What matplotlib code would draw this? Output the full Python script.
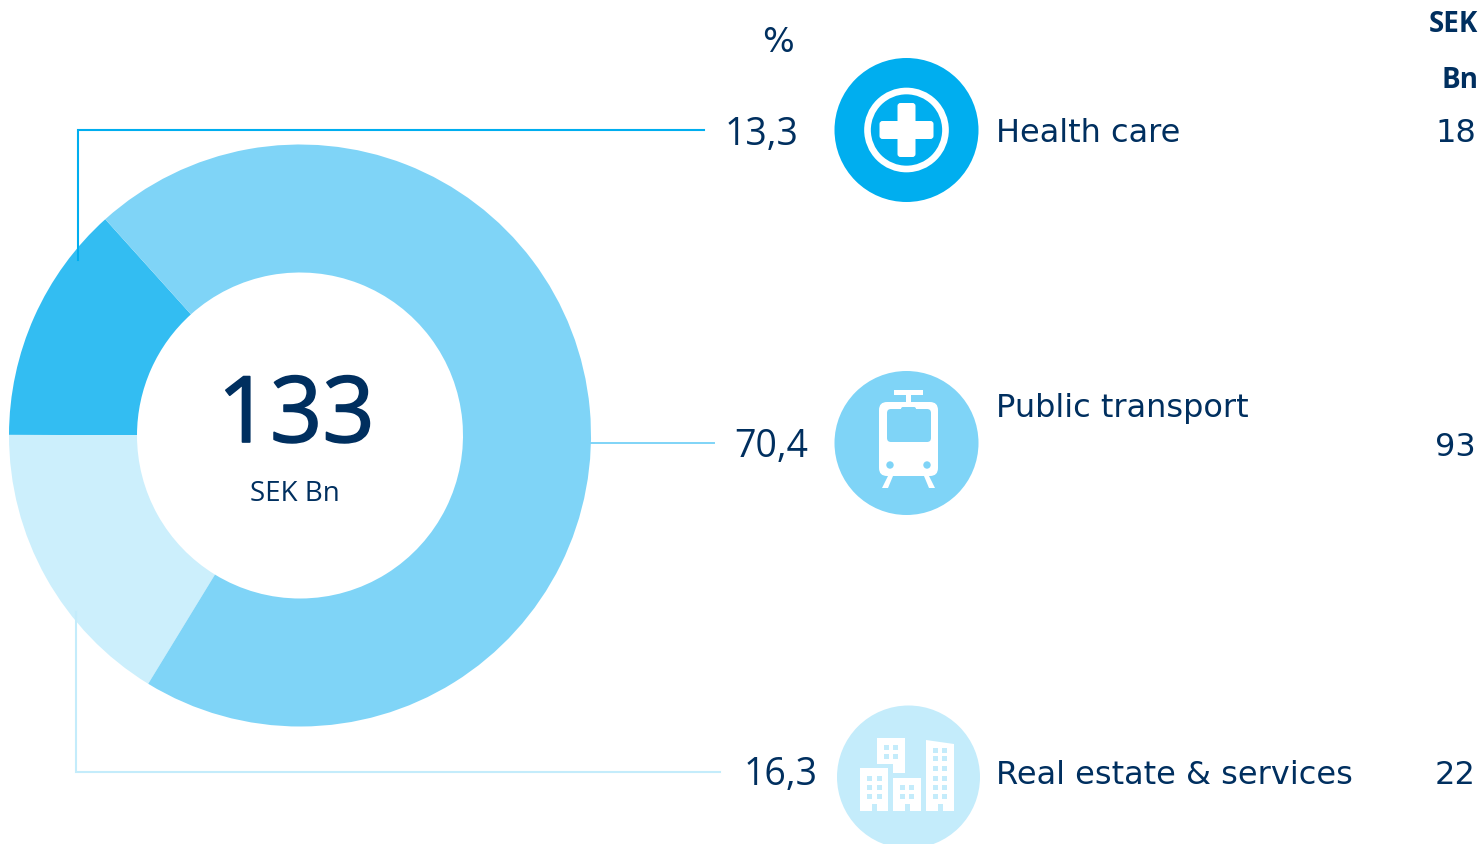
import matplotlib
matplotlib.use('Agg')
import matplotlib.pyplot as plt
import matplotlib.patheffects as pe
from matplotlib.patches import Circle, Rectangle, FancyBboxPatch, Polygon

W = 1483
H = 845

# datos del grafico
categorias = ['Health care', 'Public transport', 'Real estate & services']
porcentajes = [13.3, 70.4, 16.3]
porcentajes_txt = ['13,3', '70,4', '16,3']
sek_bn = ['18', '93', '22']
total = '133'

AZUL_TEXTO = '#002F5F'
C_HEALTH = '#00AEEF'
C_HEALTH_DONUT = '#33BDF2'
C_TRANSPORT = '#7FD4F7'
C_REAL = '#C4ECFB'
C_REAL_DONUT = '#CCEFFC'
FUENTE = 'DejaVu Sans'
FUENTE2 = 'Open Sans'


# el eje va en pixeles con y hacia arriba, esto pasa de y de la imagen a y del eje
def Y(py):
    return H - py


def caja(ax, x0, y0, x1, y1, color, z=5):
    ax.add_patch(Rectangle((x0, Y(y1)), x1 - x0, y1 - y0, fc=color, ec='none', zorder=z))


def caja_redonda(ax, x0, y0, x1, y1, r, color, z=5):
    ax.add_patch(FancyBboxPatch((x0 + r, Y(y1) + r), x1 - x0 - 2 * r, y1 - y0 - 2 * r,
                                boxstyle='round,pad=%f,rounding_size=%f' % (r, r),
                                fc=color, ec='none', zorder=z))


def icono_health(ax, cx, cy):
    ax.add_patch(Circle((cx, Y(cy)), 72, fc=C_HEALTH, ec='none', zorder=4))
    ax.add_patch(Circle((cx, Y(cy)), 39, fc='none', ec='white', lw=4.8, zorder=5))
    caja_redonda(ax, cx - 27, cy - 9, cx + 27, cy + 9, 3, 'white')
    caja_redonda(ax, cx - 9, cy - 27, cx + 9, cy + 27, 3, 'white')


def icono_tren(ax, cx, cy):
    ax.add_patch(Circle((cx, Y(cy)), 72, fc=C_TRANSPORT, ec='none', zorder=4))
    caja(ax, 894, 390, 923, 395, 'white')
    caja(ax, 906, 395, 911, 403, 'white')
    caja_redonda(ax, 879, 402, 938, 476, 8, 'white')
    caja_redonda(ax, 887, 409, 931, 442, 4, C_TRANSPORT, z=6)
    caja_redonda(ax, 901, 407, 916, 412, 2, C_TRANSPORT, z=6)
    for x in (890, 927):
        ax.add_patch(Circle((x, Y(465)), 3.7, fc=C_TRANSPORT, ec='none', zorder=6))
    ax.add_patch(Polygon([(888, Y(476)), (893, Y(476)), (888, Y(488)), (882, Y(488))], fc='white', ec='none', zorder=5))
    ax.add_patch(Polygon([(924, Y(476)), (929, Y(476)), (935, Y(488)), (929, Y(488))], fc='white', ec='none', zorder=5))


def ventanas(ax, xs, ys):
    for x in xs:
        for y in ys:
            caja(ax, x, y, x + 5, y + 5, C_REAL, z=6)


def icono_edificios(ax, cx, cy):
    ax.add_patch(Circle((cx, Y(cy)), 71.5, fc=C_REAL, ec='none', zorder=4))
    caja(ax, 877, 738, 905, 764, 'white')
    caja(ax, 893, 764, 905, 773, 'white')
    caja(ax, 860, 768, 888, 811, 'white')
    caja(ax, 893, 778, 921, 811, 'white')
    ax.add_patch(Polygon([(926, Y(740)), (954, Y(744)), (954, Y(811)), (926, Y(811))], fc='white', ec='none', zorder=5))
    caja(ax, 872, 804, 877, 811, C_REAL, z=6)
    caja(ax, 905, 804, 910, 811, C_REAL, z=6)
    caja(ax, 938, 804, 943, 811, C_REAL, z=6)
    ventanas(ax, [884, 893], [745, 754])
    ventanas(ax, [867, 877], [776, 785, 794])
    ventanas(ax, [900, 909], [785, 794])
    ventanas(ax, [933, 942], [748, 756, 766, 776, 785, 794])


fig = plt.figure(figsize=(W / 100, H / 100), dpi=100)
ax = fig.add_axes([0, 0, 1, 1])

# dona
ax.pie([porcentajes[0], porcentajes[2], porcentajes[1]],
       colors=[C_HEALTH_DONUT, C_REAL_DONUT, C_TRANSPORT],
       startangle=132, center=(300, Y(435.5)), radius=291, frame=True,
       wedgeprops={'width': 128, 'edgecolor': 'none'})
ax.set_xlim(0, W)
ax.set_ylim(1, H + 1)
ax.set_aspect('equal')
ax.axis('off')

# lineas guia
ax.plot([704, 77.5, 77.5], [Y(130), Y(130), Y(260)], color=C_HEALTH, lw=1.5, zorder=3, solid_joinstyle='miter')
ax.plot([590, 714], [Y(443), Y(443)], color=C_TRANSPORT, lw=1.4, zorder=3)
ax.plot([720, 75.5, 75.5], [Y(772), Y(772), Y(612)], color=C_REAL, lw=1.5, zorder=3, solid_joinstyle='miter')

# centro
t = ax.text(296, Y(442), total, fontsize=66, family=FUENTE2, color=AZUL_TEXTO, ha='center', va='baseline')
t.set_path_effects([pe.withStroke(linewidth=1.2, foreground=AZUL_TEXTO)])
ax.text(295, Y(500), 'SEK Bn', fontsize=20, family=FUENTE2, color=AZUL_TEXTO, ha='center', va='baseline')

# porcentajes
ax.text(778, Y(51), '%', fontsize=24, family=FUENTE, color=AZUL_TEXTO, ha='center', va='baseline')
pos_pct = [(798, 143.5), (808, 456.5), (818, 784)]
for txt, (x, y) in zip(porcentajes_txt, pos_pct):
    ax.text(x, Y(y), txt, fontsize=27, family=FUENTE2, color=AZUL_TEXTO, ha='right', va='baseline')

# categorias
pos_cat = [141.5, 416.5, 783.5]
for txt, y in zip(categorias, pos_cat):
    ax.text(996, Y(y), txt, fontsize=23, family=FUENTE, color=AZUL_TEXTO, ha='left', va='baseline')

# columna SEK Bn
ax.text(1478, Y(31), 'SEK', fontsize=20, family=FUENTE2, weight='bold', color=AZUL_TEXTO, ha='right', va='baseline')
ax.text(1478, Y(87), 'Bn', fontsize=20, family=FUENTE2, weight='bold', color=AZUL_TEXTO, ha='right', va='baseline')
for txt, y in zip(sek_bn, [141, 455, 783]):
    ax.text(1476, Y(y), txt, fontsize=23, family=FUENTE, color=AZUL_TEXTO, ha='right', va='baseline')

icono_health(ax, 906.5, 130)
icono_tren(ax, 906.5, 443)
icono_edificios(ax, 908.5, 777)

fig.savefig('out.png', dpi=100)
